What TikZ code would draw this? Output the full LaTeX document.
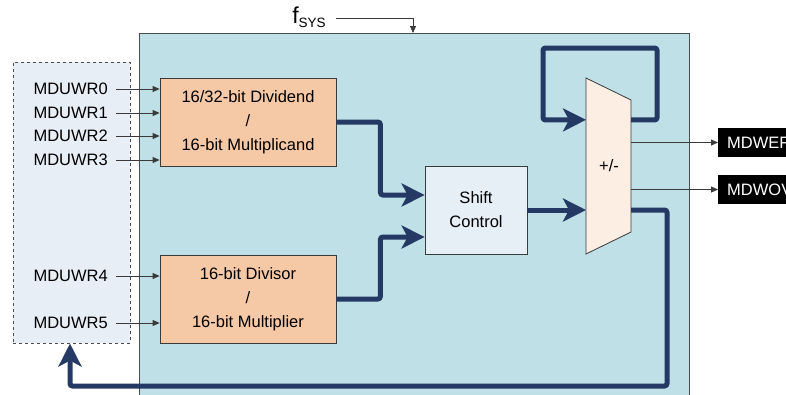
\documentclass[tikz,border=0pt]{standalone}
\usepackage{fontspec}
\setmainfont{Liberation Sans}
\usetikzlibrary{arrows.meta,calc}
\definecolor{navy}{HTML}{243A64}
\definecolor{mainbg}{HTML}{C0E0E7}
\definecolor{regbg}{HTML}{E8EEF6}
\definecolor{orangebox}{HTML}{F5C9A6}
\definecolor{shiftbg}{HTML}{E6EEF6}
\definecolor{trapbg}{HTML}{FCEEE2}
\definecolor{edge}{HTML}{3A3A3A}
\begin{document}
\begin{tikzpicture}[x=1pt,y=-1pt,
  every node/.style={font=\fontsize{16.5}{24}\selectfont},
  reglabel/.style={anchor=east, inner sep=0pt},
  thinarrow/.style={draw=edge, line width=0.8pt, -{Triangle[length=7pt,width=6pt]}},
  bus/.style={draw=navy, line width=5pt, rounded corners=2.5pt},
  busarrow/.style={bus, -{Stealth[length=23pt,width=23pt,inset=6pt]}},
  orangebox/.style={draw=edge, line width=0.8pt, fill=orangebox, minimum width=176pt, minimum height=88pt, align=center, inner sep=0pt},
  outbox/.style={fill=black, text=white, anchor=west, minimum width=90pt, minimum height=29pt, inner sep=0pt, text width=82pt, align=left}
]
\useasboundingbox (0,0) rectangle (786,394);
\clip (0,0) rectangle (786,394);

% main block
\node[draw=gray!60!black, line width=0.8pt, fill=mainbg, minimum width=550pt, minimum height=380pt, anchor=north west, inner sep=0pt] (main) at (139,33) {};

% register box
\node[draw=gray!60!black, dashed, line width=0.7pt, fill=regbg, minimum width=117pt, minimum height=281pt, anchor=north west, inner sep=0pt] (regs) at (13,62) {};

% clock
\node[inner sep=0pt] (fsys) at (309,17) {{\fontsize{23}{23}\selectfont f}\raisebox{-4pt}{\fontsize{13.5}{13.5}\selectfont SYS}};
\coordinate (clk) at (413,33);
\draw[thinarrow] ($(fsys.east)+(10,1)$) -| (clk);

% orange boxes
\node[orangebox] (b1) at (248,122) {16/32-bit Dividend\\/\\16-bit Multiplicand};
\node[orangebox] (b2) at (248,299) {16-bit Divisor\\/\\16-bit Multiplier};

% register labels
\node[reglabel] (w0) at (108,89) {MDUWR0};
\node[reglabel] (w1) at (108,113) {MDUWR1};
\node[reglabel] (w2) at (108,136) {MDUWR2};
\node[reglabel] (w3) at (108,160) {MDUWR3};
\node[reglabel] (w4) at (108,276) {MDUWR4};
\node[reglabel] (w5) at (108,323) {MDUWR5};
\foreach \w in {w0,w1,w2,w3,w4,w5}
  \draw[thinarrow] ($(\w.east)+(8,0)$) -- (\w.east -| b1.west);

% shift control
\node[draw=edge, line width=0.8pt, fill=shiftbg, minimum width=102pt, minimum height=88pt, align=center, inner sep=0pt] (sc) at (476,210) {Shift\\Control};

% adder/subtractor trapezoid
\coordinate (tl) at (586,78);
\coordinate (tr) at (631,100);
\coordinate (br) at (631,232);
\coordinate (bl) at (586,254);
\draw[draw=edge, line width=0.8pt, fill=trapbg] (tl) -- (tr) -- (br) -- (bl) -- cycle;
\node[inner sep=0pt] (pm) at (609,166) {+/-};

% outputs
\node[outbox] (mdwef) at (718,142.5) {\hspace*{5pt}MDWEF};
\node[outbox] (mdwov) at (718,189.5) {\hspace*{5pt}MDWOV};
\draw[thinarrow] (tr |- mdwef) -- (mdwef.west);
\draw[thinarrow] (tr |- mdwov) -- (mdwov.west);

% buses
\draw[busarrow] (b1.east) -- ++(44,0) |- ($(sc.west)+(0,-15)$);
\draw[busarrow] (b2.east) -- ++(44,0) |- ($(sc.west)+(0,27)$);
\draw[busarrow] (sc.east) -- (sc.east -| tl);
\coordinate (loopout) at ($(tr)!0.15!(br)$);
\draw[busarrow] (loopout) -- (657,120) -- (657,48) -- (543,48) -- (543,120) -- (loopout -| tl);
\draw[busarrow] (sc.east -| br) -- (667,210) -- (667,386) -- (70,386) -- (70,343.5);
\end{tikzpicture}
\end{document}
